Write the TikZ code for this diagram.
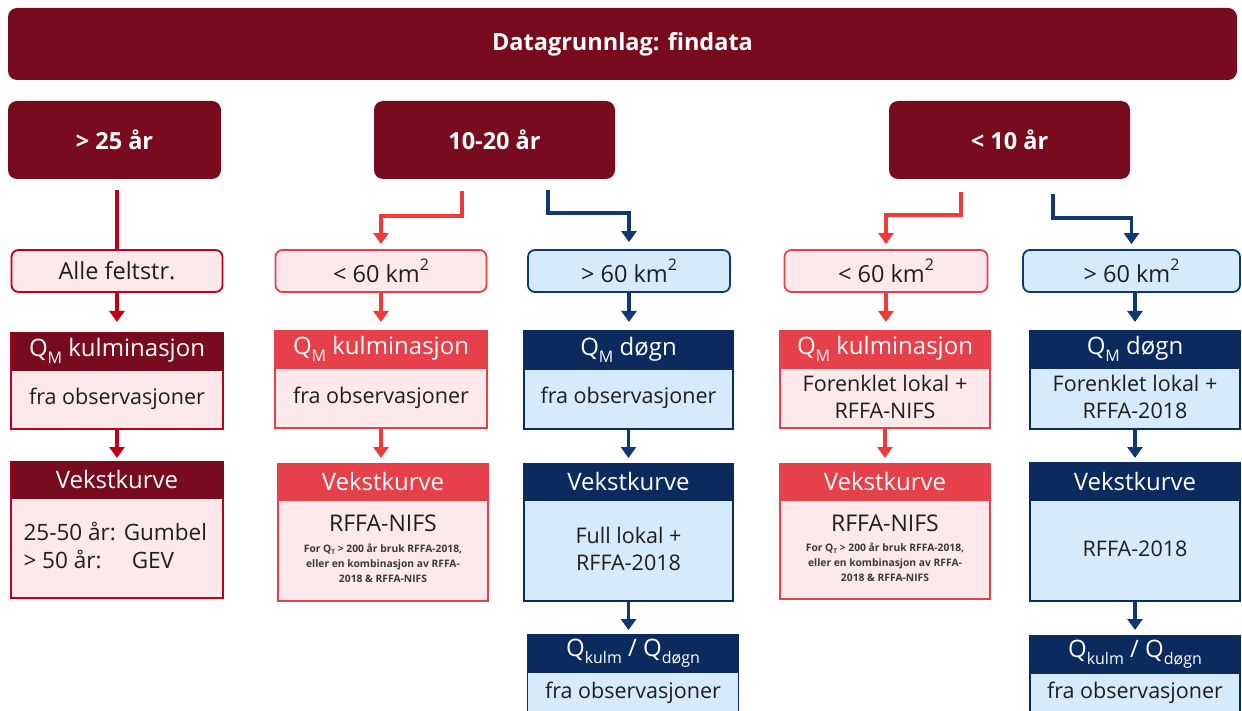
\documentclass[tikz,border=0pt]{standalone}
\usepackage{fontspec}
\setmainfont{Open Sans}
\usetikzlibrary{arrows.meta,calc}
\definecolor{dred}{HTML}{780C1E}
\definecolor{bred}{HTML}{E6404A}
\definecolor{cred}{HTML}{C00018}
\definecolor{ared}{HTML}{F03A3A}
\definecolor{navy}{HTML}{0B2A5E}
\definecolor{anavy}{HTML}{103874}
\definecolor{pinkf}{HTML}{FDE8EB}
\definecolor{bluef}{HTML}{D5EAFA}
\definecolor{txt}{HTML}{1E1E1E}
\definecolor{smalltxt}{HTML}{3A3A3A}
\newcommand{\subM}[1]{\raisebox{-0.28em}{\fontsize{16}{16}\selectfont #1}}
\newcommand{\supT}[1]{\raisebox{0.5em}{\fontsize{16}{16}\selectfont #1}}
\tikzset{
  darkbox/.style={fill=dred, rounded corners=9pt, text=white, inner sep=0pt,
    font=\bfseries\fontsize{23.5}{27}\selectfont},
  smallbox/.style={rounded corners=7pt, line width=1.8pt, inner sep=0pt,
    minimum height=42pt, text=txt, font=\fontsize{23.5}{27}\selectfont},
  redsmall/.style={smallbox, draw=cred, fill=pinkf},
  brsmall/.style={smallbox, draw=bred, fill=pinkf},
  bluesmall/.style={smallbox, draw=anavy, fill=bluef},
  head/.style={anchor=north, inner sep=0pt, text=white, font=\fontsize{24}{28}\selectfont},
  body/.style={anchor=north, inner sep=0pt, line width=1.6pt, text=txt, align=center,
    font=\fontsize{21.5}{27}\selectfont},
  btxt/.style={text=txt, align=center, font=\fontsize{21.5}{27}\selectfont},
  arr/.style={line width=3.8pt, -{Triangle[width=15pt,length=11pt]}, shorten >=6pt},
  link/.style={line width=3.8pt},
  smallnote/.style={text=smalltxt, align=center, font=\bfseries\fontsize{10.3}{15}\selectfont},
}
\begin{document}
\begin{tikzpicture}[x=1pt,y=-1pt]
\useasboundingbox (0,0) rectangle (1242,711);
\clip (0,0) rectangle (1242,711);
\fill[white] (0,0) rectangle (1242,711);

% banner and top categories
\node[darkbox, minimum width=1229pt, minimum height=72pt] (top) at (622.5,44) {Datagrunnlag: findata};
\node[darkbox, minimum width=213pt, minimum height=78pt] (A) at (114.5,140) {> 25 år};
\node[darkbox, minimum width=241pt, minimum height=78pt] (B) at (494.5,140) {10-20 år};
\node[darkbox, minimum width=241pt, minimum height=78pt] (C) at (1009.5,140) {< 10 år};

% area boxes
\node[redsmall, minimum width=211pt] (s1) at (117,271) {Alle feltstr.};
\node[brsmall, minimum width=211pt] (s2) at (381,271) {< 60 km\supT{2}};
\node[bluesmall, minimum width=202pt] (s3) at (629,271) {> 60 km\supT{2}};
\node[brsmall, minimum width=203pt] (s4) at (886,271) {< 60 km\supT{2}};
\node[bluesmall, minimum width=217pt] (s5) at (1131.5,271) {> 60 km\supT{2}};

% column 1
\node[body, draw=cred, fill=pinkf, minimum width=212pt, minimum height=96pt] (Q1b) at (117,332) {};
\node[head, fill=dred, draw=dred, minimum width=212pt, minimum height=38pt] (Q1h) at (117,332) {Q\subM{M} kulminasjon};
\node[btxt] at (117,399) {fra observasjoner};
\node[body, draw=cred, fill=pinkf, minimum width=212pt, minimum height=136pt] (V1b) at (117,461) {};
\node[head, fill=dred, draw=dred, minimum width=212pt, minimum height=37pt] (V1h) at (117,461) {Vekstkurve};
\node[text=txt, font=\fontsize{22.5}{28}\selectfont, anchor=west] (V1t) at (20,549)
  {\begin{tabular}{@{}l@{\hspace{8pt}}l@{}}25-50 år: & Gumbel\\[0pt] > 50 år: & \hspace{8pt}GEV\end{tabular}};

% column 2
\node[body, draw=bred, fill=pinkf, minimum width=212pt, minimum height=97pt] (Q2b) at (381,330) {};
\node[head, fill=bred, draw=bred, minimum width=212pt, minimum height=38pt] (Q2h) at (381,330) {Q\subM{M} kulminasjon};
\node[btxt] at (381,398) {fra observasjoner};
\node[body, draw=bred, fill=pinkf, minimum width=210pt, minimum height=137pt] (V2b) at (383,463) {};
\node[head, fill=bred, draw=bred, minimum width=210pt, minimum height=37pt] (V2h) at (383,463) {Vekstkurve};
\node[text=txt, align=center, font=\fontsize{23}{25}\selectfont] at (383,523) {RFFA-NIFS};
\node[smallnote] at (383,563)
  {For Q\raisebox{-0.2em}{\fontsize{6.5}{6.5}\selectfont T} > 200 år bruk RFFA-2018,\\eller en kombinasjon av RFFA-\\2018 \& RFFA-NIFS};

% column 3
\node[body, draw=navy, fill=bluef, minimum width=209pt, minimum height=98pt] (Q3b) at (628.5,330) {};
\node[head, fill=navy, draw=navy, minimum width=209pt, minimum height=39pt] (Q3h) at (628.5,330) {Q\subM{M} døgn};
\node[btxt] at (628.5,398) {fra observasjoner};
\node[body, draw=navy, fill=bluef, minimum width=209pt, minimum height=137pt] (V3b) at (628.5,463) {};
\node[head, fill=navy, draw=navy, minimum width=209pt, minimum height=37pt] (V3h) at (628.5,463) {Vekstkurve};
\node[btxt] at (628.5,549) {Full lokal +\\RFFA-2018};
\node[body, draw=navy, fill=bluef, minimum width=211pt, minimum height=100pt] (K3b) at (633,634) {};
\node[head, fill=navy, draw=navy, minimum width=211pt, minimum height=38pt] (K3h) at (633,634) {Q\subM{kulm} / Q\subM{døgn}};
\node[btxt] at (633,693) {fra observasjoner};

% column 4
\node[body, draw=bred, fill=pinkf, minimum width=210pt, minimum height=97pt] (Q4b) at (885,330) {};
\node[head, fill=bred, draw=bred, minimum width=210pt, minimum height=38pt] (Q4h) at (885,330) {Q\subM{M} kulminasjon};
\node[btxt] at (885,397) {Forenklet lokal +\\RFFA-NIFS};
\node[body, draw=bred, fill=pinkf, minimum width=210pt, minimum height=135pt] (V4b) at (885,463) {};
\node[head, fill=bred, draw=bred, minimum width=210pt, minimum height=37pt] (V4h) at (885,463) {Vekstkurve};
\node[text=txt, align=center, font=\fontsize{23}{25}\selectfont] at (885,523) {RFFA-NIFS};
\node[smallnote] at (885,562)
  {For Q\raisebox{-0.2em}{\fontsize{6.5}{6.5}\selectfont T} > 200 år bruk RFFA-2018,\\eller en kombinasjon av RFFA-\\2018 \& RFFA-NIFS};

% column 5
\node[body, draw=navy, fill=bluef, minimum width=210pt, minimum height=98pt] (Q5b) at (1135,330) {};
\node[head, fill=navy, draw=navy, minimum width=210pt, minimum height=38pt] (Q5h) at (1135,330) {Q\subM{M} døgn};
\node[btxt] at (1135,397) {Forenklet lokal +\\RFFA-2018};
\node[body, draw=navy, fill=bluef, minimum width=210pt, minimum height=138pt] (V5b) at (1135,462) {};
\node[head, fill=navy, draw=navy, minimum width=210pt, minimum height=38pt] (V5h) at (1135,462) {Vekstkurve};
\node[btxt] at (1135,549) {RFFA-2018};
\node[body, draw=navy, fill=bluef, minimum width=210pt, minimum height=100pt] (K5b) at (1135,635) {};
\node[head, fill=navy, draw=navy, minimum width=210pt, minimum height=38pt] (K5h) at (1135,635) {Q\subM{kulm} / Q\subM{døgn}};
\node[btxt] at (1135,693) {fra observasjoner};

% connectors from categories
\draw[link, cred, shorten <=11pt] (s1.north |- A.south) -- (s1.north);
\coordinate (B2) at (462,191);
\coordinate (B2k) at (462,216);
\draw[arr, ared, shorten >=5pt] (B2) -- (B2k) -| (s2.north);
\coordinate (B3) at (548,190);
\coordinate (B3k) at (548,213);
\draw[arr, anavy, shorten >=7pt] (B3) -- (B3k) -| (s3.north);
\coordinate (C4) at (961,192);
\coordinate (C4k) at (961,215);
\draw[arr, ared, shorten >=5pt] (C4) -- (C4k) -| (s4.north);
\coordinate (C5) at (1053,194);
\coordinate (C5k) at (1053,218);
\draw[arr, anavy, shorten >=5pt] (C5) -- (C5k) -| (s5.north);

% vertical connectors
\draw[arr, cred, shorten >=10pt] (s1.south) -- (Q1h.north);
\draw[arr, cred, shorten >=3pt] (Q1b.south) -- (V1h.north);
\draw[arr, ared, shorten >=8pt] (s2.south) -- (s2.south |- Q2h.north);
\draw[arr, ared, shorten >=5pt] (Q2b.south) -- (Q2b.south |- V2h.north);
\draw[arr, anavy, shorten >=8pt] (s3.south) -- (s3.south |- Q3h.north);
\draw[arr, anavy, shorten >=5pt] (Q3b.south) -- (V3h.north);
\draw[arr, anavy, shorten >=4pt] (V3b.south) -- (V3b.south |- K3h.north);
\draw[arr, ared, shorten >=8pt] (s4.south) -- (s4.south |- Q4h.north);
\draw[arr, ared, shorten >=5pt] (Q4b.south) -- (V4h.north);
\draw[arr, anavy, shorten >=8pt] (s5.south -| Q5h.north) -- (Q5h.north);
\draw[arr, anavy, shorten >=4pt] (Q5b.south) -- (V5h.north);
\draw[arr, anavy, shorten >=5pt] (V5b.south) -- (K5h.north);
\end{tikzpicture}
\end{document}
